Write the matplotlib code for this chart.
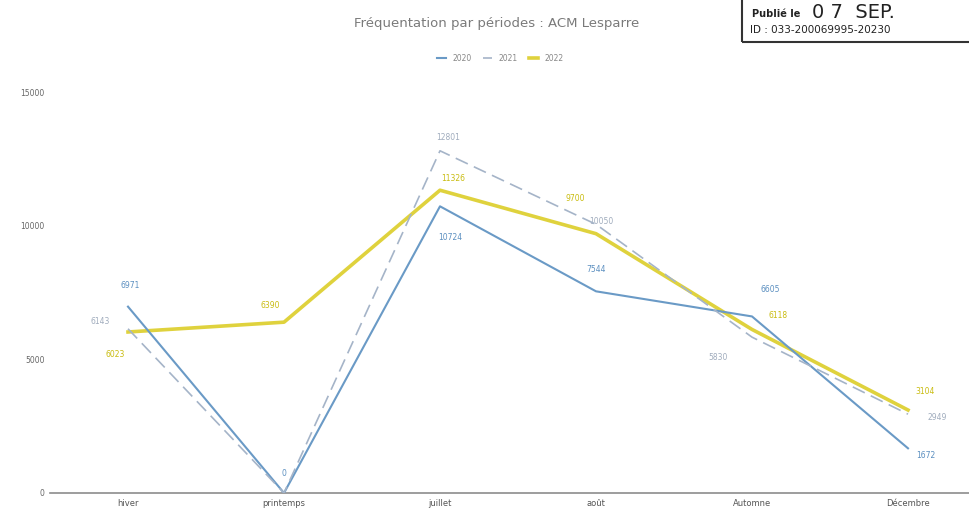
import matplotlib.pyplot as plt
from matplotlib.patches import Rectangle

# data
periodes = ['hiver', 'printemps', 'juillet', 'août', 'Automne', 'Décembre']
annees = ['2020', '2021', '2022']
v2020 = [6971, 0, 10724, 7544, 6605, 1672]
v2021 = [6143, 0, 12801, 10050, 5830, 2949]
v2022 = [6023, 6390, 11326, 9700, 6118, 3104]
yticks = [0, 5000, 10000, 15000]

fig = plt.figure(figsize=(9.69, 5.17), dpi=100)
ax = fig.add_axes([50 / 969, 1 - 493 / 517, 919 / 969, (493 - 92) / 517])

x = list(range(len(periodes)))
c2020 = '#6a9ac6'
c2021 = '#a5b4c8'
c2022 = '#dccd28'

ax.plot(x, v2020, color=c2020, lw=1.5, label=annees[0], zorder=3)
ax.plot(x, v2021, color=c2021, lw=1.2, ls=(0, (8, 4)), label=annees[1], zorder=4)
ax.plot(x, v2022, color=c2022, lw=2.6, alpha=0.9, label=annees[2], zorder=2)

# data label offsets in pixels (dx, dy)
off2020 = [(2, 21), (0, 20), (10, -31), (0, 22), (18, 27), (18, -7)]
off2021 = [(-28, 7), None, (8, 13), (5, 3), (-34, -20), (29, -3)]
off2022 = [(-13, -23), (-14, 17), (13, 12), (-21, 35), (26, 14), (17, 19)]

for vals, offs, col in [(v2020, off2020, '#5b8fc0'), (v2021, off2021, '#a0acbd'),
                        (v2022, off2022, '#c9bc10')]:
    for i, v in enumerate(vals):
        if offs[i] is None:
            continue
        ax.annotate(str(v), (i, v), xytext=offs[i], textcoords='offset pixels',
                    ha='center', va='center', fontsize=5.5, color=col)

ax.set_xlim(-0.5, -0.5 + 919 / 156)
ax.set_ylim(0, 15000)
ax.set_yticks(yticks)
ax.set_yticklabels([str(t) for t in yticks], fontsize=5.5, color='#666666')
ax.set_xticks(x)
ax.set_xticklabels(periodes, fontsize=6, color='#555555')
ax.tick_params(length=0, pad=4)
for s in ['top', 'right', 'left']:
    ax.spines[s].set_visible(False)
ax.spines['bottom'].set_color('#8c8c8c')
ax.spines['bottom'].set_linewidth(1.2)

fig.text(497 / 969, 1 - 23 / 517, 'Fréquentation par périodes : ACM Lesparre',
         ha='center', va='center', fontsize=9.5, color='#7a7a7a')
ax.legend(loc='center', bbox_to_anchor=(500 / 969, 1 - 58 / 517),
          bbox_transform=fig.transFigure, ncol=3, frameon=False,
          fontsize=5.5, handlelength=1.2, columnspacing=1.5, labelcolor='#888888')

# stamp in the top right corner
fig.patches.append(Rectangle((742 / 969, 1 - 42 / 517), 240 / 969, 46 / 517,
                             transform=fig.transFigure, fill=False,
                             edgecolor='#333333', lw=1.5))
fig.text(752 / 969, 1 - 14 / 517, 'Publié le', fontsize=7, color='#222222',
         va='center', fontweight='bold')
fig.text(812 / 969, 1 - 12 / 517, '0 7  SEP.', fontsize=14, color='#222222',
         va='center')
fig.text(750 / 969, 1 - 30 / 517, 'ID : 033-200069995-20230', fontsize=7.5,
         color='#222222', va='center')

fig.savefig('out.png', dpi=100)
